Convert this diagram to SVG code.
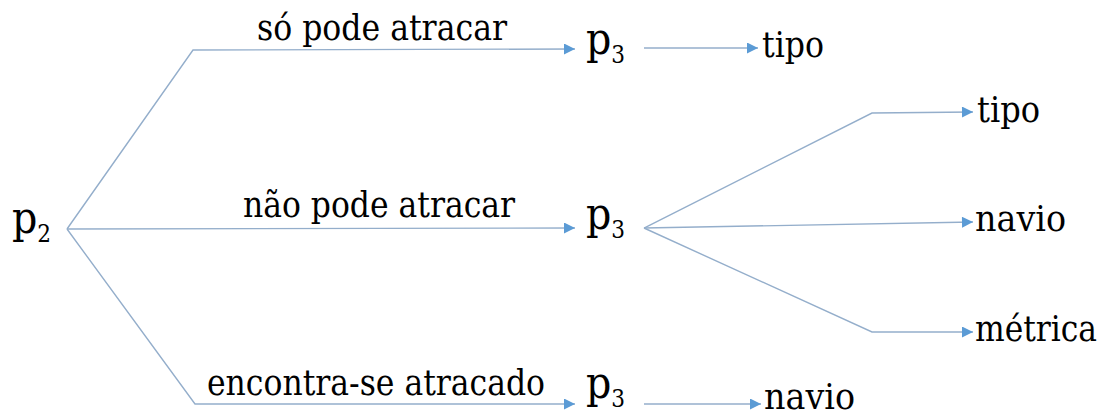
<svg xmlns="http://www.w3.org/2000/svg" width="1107" height="419" viewBox="0 0 1107 419">
  <defs>
    <marker id="arrow" viewBox="0 0 10 10" refX="10" refY="5" markerWidth="12" markerHeight="11" markerUnits="userSpaceOnUse" orient="auto">
      <path d="M0,0 L10,5 L0,10 Z" fill="#5B9BD5"/>
    </marker>
  </defs>
  <style>
    .edge { fill: none; stroke: #94AECB; stroke-width: 1.4; marker-end: url(#arrow); }
    text { font-family: 'DejaVu Serif Condensed', 'DejaVu Serif', serif; fill: #000; }
    .lbl { font-size: 35px; }
    .var { font-size: 44px; }
    .sub { font-size: 24px; }
  </style>

  <!-- connectors -->
  <g id="connectors">
    <polyline class="edge" points="67,229 193,50 575,49"/>
    <polyline class="edge" points="67,229 575,228"/>
    <polyline class="edge" points="67,229 195,404 575,404"/>
    <polyline class="edge" points="644,48 758,48"/>
    <polyline class="edge" points="644,228 872,113 973,112"/>
    <polyline class="edge" points="644,228 973,222"/>
    <polyline class="edge" points="644,228 872,332 973,332"/>
    <polyline class="edge" points="644,404 761,404"/>
  </g>

  <!-- root -->
  <g id="node-p2">
    <text x="12" y="233"><tspan class="var">p</tspan><tspan class="sub" dy="9">2</tspan></text>
  </g>

  <!-- edge labels -->
  <g id="label-so-pode">
    <text class="lbl" x="257" y="40" textLength="250" lengthAdjust="spacingAndGlyphs">só pode atracar</text>
  </g>
  <g id="label-nao-pode">
    <text class="lbl" x="243" y="217" textLength="272" lengthAdjust="spacingAndGlyphs">não pode atracar</text>
  </g>
  <g id="label-encontra">
    <text class="lbl" x="207" y="395" textLength="338" lengthAdjust="spacingAndGlyphs">encontra-se atracado</text>
  </g>

  <!-- second level -->
  <g id="node-p3-top">
    <text x="586" y="54"><tspan class="var">p</tspan><tspan class="sub" dy="9">3</tspan></text>
  </g>
  <g id="node-p3-mid">
    <text x="586" y="229"><tspan class="var">p</tspan><tspan class="sub" dy="9">3</tspan></text>
  </g>
  <g id="node-p3-bot">
    <text x="586" y="398"><tspan class="var">p</tspan><tspan class="sub" dy="9">3</tspan></text>
  </g>

  <!-- leaves -->
  <g id="leaf-tipo-top">
    <text class="lbl" x="762" y="57" textLength="62" lengthAdjust="spacingAndGlyphs">tipo</text>
  </g>
  <g id="leaf-tipo-mid">
    <text class="lbl" x="977" y="122" textLength="63" lengthAdjust="spacingAndGlyphs">tipo</text>
  </g>
  <g id="leaf-navio-mid">
    <text class="lbl" x="975" y="231" textLength="91" lengthAdjust="spacingAndGlyphs">navio</text>
  </g>
  <g id="leaf-metrica">
    <text class="lbl" x="975" y="341" textLength="122" lengthAdjust="spacingAndGlyphs">métrica</text>
  </g>
  <g id="leaf-navio-bot">
    <text class="lbl" x="764" y="409" textLength="91" lengthAdjust="spacingAndGlyphs">navio</text>
  </g>
</svg>
